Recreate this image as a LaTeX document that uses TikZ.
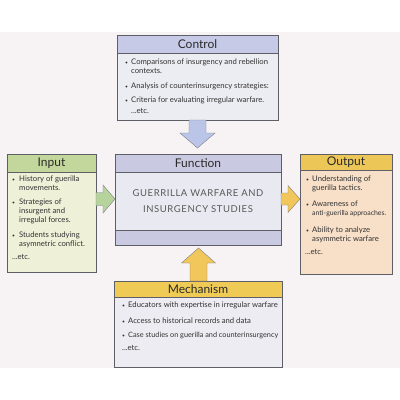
\documentclass[tikz,border=0pt]{standalone}
\usepackage{fontspec}
\setmainfont{Lato}
\usetikzlibrary{calc}
\definecolor{bgband}{HTML}{F7F3F5}
\definecolor{edge}{HTML}{5E5E66}
\definecolor{txt}{HTML}{333333}
\definecolor{titlec}{HTML}{2A2A2A}
\definecolor{ctrlhead}{HTML}{C6CAE6}
\definecolor{ctrlbody}{HTML}{ECECF3}
\definecolor{funchead}{HTML}{C9CAE2}
\definecolor{funcbody}{HTML}{E9E9F1}
\definecolor{inphead}{HTML}{C3D79C}
\definecolor{inpbody}{HTML}{EEF0D8}
\definecolor{outhead}{HTML}{ECC657}
\definecolor{outbody}{HTML}{F7DFC8}
\definecolor{mechhead}{HTML}{EFCB55}
\definecolor{mechbody}{HTML}{ECECF2}
\definecolor{arrblue}{HTML}{BAC5E8}
\definecolor{arrgreen}{HTML}{B5D39A}
\definecolor{arrgold}{HTML}{F1C65A}
% multi-line text whose baseline is the first line's
\newcommand{\ml}[1]{\begin{tabular}[t]{@{}l@{}}#1\end{tabular}}
% fat arrow: #1 style, #2 start, #3 tip, #4 stem half width, #5 head half width, #6 head length
\newcommand{\fatarr}[6]{%
  \coordinate (hbase) at ($(#3)!#6!(#2)$);
  \draw[#1] ($(#2)!#4!90:(#3)$) -- ($(hbase)!#4!-90:(#2)$) -- ($(hbase)!#5!-90:(#2)$)
    -- (#3) -- ($(hbase)!#5!90:(#2)$) -- ($(hbase)!#4!90:(#2)$) -- ($(#2)!#4!-90:(#3)$) -- cycle;
}
\begin{document}
\begin{tikzpicture}[x=1pt,y=-1pt,
  boxx/.style={draw=edge, line width=0.5pt, rectangle, inner sep=0pt, outer sep=0pt, anchor=north west},
  hdr/.style={boxx, font=\fontsize{12}{14}\selectfont, text=titlec},
  itm/.style={anchor=base west, inner sep=0pt, font=\fontsize{7.7}{9.2}\selectfont, text=txt},
  bul/.style={anchor=base west, inner sep=0pt, font=\fontsize{5}{6}\selectfont, text=txt},
  arrline/.style={draw=edge!80, line width=0.4pt}]
\useasboundingbox (0,0) rectangle (400,400);
\fill[white] (0,0) rectangle (400,400);
\fill[bgband] (0,32) rectangle (400,368);

% Control
\node[boxx, fill=ctrlbody, minimum width=161pt, minimum height=85pt] (ctrl) at (117,35) {};
\node[hdr, fill=ctrlhead, minimum width=161pt, minimum height=18pt] (ctrlh) at (ctrl.north west) {Control};
\node[bul] (cb1) at (125,64) {\textbullet};
\node[itm] (ct1) at (131,64) {\ml{Comparisons of insurgency and rebellion\\contexts.}};
\node[bul] (cb2) at (125,88.5) {\textbullet};
\node[itm] (ct2) at (131,88.5) {Analysis of counterinsurgency strategies:};
\node[bul] (cb3) at (125,102.5) {\textbullet};
\node[itm] (ct3) at (131,102.5) {Criteria for evaluating irregular warfare.};
\node[itm] (ct4) at (131,113.5) {...etc.};

% Function
\node[boxx, fill=funcbody, minimum width=166pt, minimum height=91pt] (func) at (115,154) {};
\node[hdr, fill=funchead, minimum width=166pt, minimum height=18pt] (funch) at (func.north west) {Function};
\node[boxx, fill=funchead, minimum width=166pt, minimum height=15pt, anchor=south west] (funcb) at (func.south west) {};
\node[inner sep=0pt, align=center, text=black!65, font=\fontsize{9.5}{16}\selectfont\addfontfeatures{LetterSpace=6}] (ftext) at (198,201.5) {GUERRILLA WARFARE AND\\INSURGENCY STUDIES};

% Input
\node[boxx, fill=inpbody, minimum width=89pt, minimum height=118pt] (inp) at (7,154) {};
\node[hdr, fill=inphead, minimum width=89pt, minimum height=18pt] (inph) at (inp.north west) {Input};
\node[bul] (ib1) at (12,181) {\textbullet};
\node[itm] (it1) at (19,181) {\ml{History of guerilla\\movements.}};
\node[bul] (ib2) at (12,204) {\textbullet};
\node[itm] (it2) at (19,204) {\ml{Strategies of\\insurgent and\\irregulal forces.}};
\node[bul] (ib3) at (12,237) {\textbullet};
\node[itm] (it3) at (19,237) {\ml{Students studying\\asymnetric conflict.}};
\node[itm] (it4) at (12,259) {...etc.};

% Output
\node[boxx, fill=outbody, minimum width=92pt, minimum height=120pt] (out) at (300,154) {};
\node[hdr, fill=outhead, minimum width=92pt, minimum height=16pt] (outh) at (out.north west) {Output};
\node[bul] (ob1) at (306,181) {\textbullet};
\node[itm] (ot1) at (312,181) {\ml{Understanding of\\guerilla tactics.}};
\node[bul] (ob2) at (306,206) {\textbullet};
\node[itm] (ot2) at (312,206) {\ml{Awareness of\\{\fontsize{6.9}{9.2}\selectfont anti-guerilla approaches.}}};
\node[bul] (ob3) at (306,232) {\textbullet};
\node[itm] (ot3) at (312,232) {\ml{Ability to analyze\\asymmetric warfare}};
\node[itm] (ot4) at (305,254) {...etc.};

% Mechanism
\node[boxx, fill=mechbody, minimum width=168pt, minimum height=86pt] (mech) at (114,281) {};
\node[hdr, fill=mechhead, minimum width=168pt, minimum height=16pt] (mechh) at (mech.north west) {Mechanism};
\node[bul] (mb1) at (122,307) {\textbullet};
\node[itm] (mt1) at (128,307) {Educators with expertise in irregular warfare};
\node[bul] (mb2) at (122,323) {\textbullet};
\node[itm] (mt2) at (128,323) {Access to historical records and data};
\node[bul] (mb3) at (122,337) {\textbullet};
\node[itm, font=\fontsize{7.3}{9}\selectfont] (mt3) at (128,337) {Case studies on guerilla and counterinsurgency};
\node[itm] (mt4) at (122,350) {...etc.};

% Arrows
\coordinate (ctip) at ($(ctrl.south)+(0,28)$);
\fatarr{arrline, fill=arrblue}{ctrl.south}{ctip}{8.5pt}{17.5pt}{15pt}
\coordinate (mstart) at ($(mech.north)+(0.5,0)$);
\coordinate (mtip) at ($(func.south)+(0.5,3)$);
\fatarr{arrline, fill=arrgold}{mstart}{mtip}{8.5pt}{17pt}{15pt}
\coordinate (istart) at ($(inp.north east)+(0,45)$);
\coordinate (itip) at (func.west |- istart);
\fatarr{arrline, fill=arrgreen}{istart}{itip}{6.5pt}{14pt}{12pt}
\coordinate (ostart) at ($(func.north east)+(0,45)$);
\coordinate (otip) at (out.west |- ostart);
\fatarr{arrline, fill=arrgold}{ostart}{otip}{6pt}{13.5pt}{12pt}
\end{tikzpicture}
\end{document}
